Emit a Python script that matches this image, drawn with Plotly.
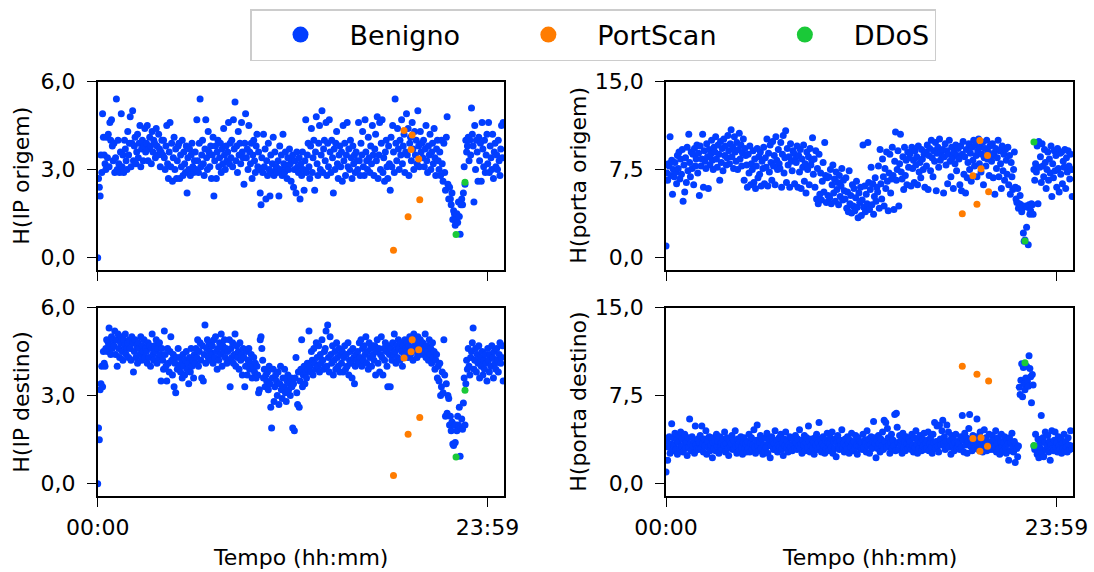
import plotly.graph_objects as go

# ---------------- data ----------------
# sample times in minutes after 00:00 (one sample every 3 minutes)
tempo = list(range(0, 1500, 3))
tick_min = [0, 1439]
tick_txt = ["00:00", "23:59"]

ip_origem = [
 0.0, 2.7, 2.4, 2.1, 3.5, 2.9, 4.9, 4.1, 3.5, 3.2, 3.0, 4.1, 3.4, 4.2, 3.1, 4.6, 4.0, 4.7, 3.8, 3.3,
 3.9, 2.9, 3.4, 5.4, 3.0, 4.0, 3.2, 2.9, 3.6, 4.9, 3.1, 3.5, 2.9, 4.0, 3.7, 3.3, 3.0, 4.3, 3.5, 3.9,
 4.8, 3.1, 3.9, 5.0, 3.3, 3.8, 4.1, 3.2, 3.6, 4.2, 3.4, 3.9, 4.5, 3.1, 3.7, 4.0, 3.3, 3.8, 4.4, 3.6,
 3.9, 4.5, 3.3, 3.7, 4.1, 3.8, 3.2, 4.3, 3.6, 4.0, 3.9, 3.4, 4.4, 3.8, 3.5, 4.2, 3.7, 3.1, 3.6, 4.0,
 3.5, 4.0, 3.4, 3.0, 3.8, 4.5, 3.2, 2.7, 3.6, 4.6, 3.1, 3.9, 2.6, 3.4, 4.1, 3.0, 3.7, 2.7, 3.3, 3.8,
 3.9, 2.7, 3.5, 3.1, 4.0, 2.8, 3.6, 3.2, 2.9, 3.8, 2.2, 3.4, 3.0, 3.7, 2.8, 3.5, 3.9, 3.1, 2.9, 3.3,
 3.6, 3.0, 4.7, 3.3, 2.9, 3.9, 5.4, 3.1, 3.5, 4.0, 3.2, 2.8, 3.7, 4.7, 3.4, 3.0, 4.3, 3.6, 3.1, 3.8,
 2.7, 3.5, 4.1, 2.1, 3.3, 3.8, 2.7, 3.6, 4.0, 3.1, 3.4, 3.9, 2.9, 3.7, 3.2, 4.4, 3.5, 3.0, 3.8, 3.3,
 3.6, 4.6, 3.2, 3.9, 3.4, 4.0, 3.1, 4.7, 3.7, 5.3, 3.3, 3.8, 2.9, 4.3, 3.5, 3.9, 3.2, 4.6, 3.6, 3.4,
 2.5, 3.9, 4.9, 3.4, 3.7, 3.0, 4.5, 3.6, 3.2, 3.9, 2.7, 3.5, 4.0, 3.3, 2.9, 3.8, 4.2, 3.1, 3.6, 3.0,
 2.2, 1.8, 3.4, 2.9, 4.2, 3.1, 3.7, 2.0, 3.3, 2.8, 3.9, 3.0, 2.1, 3.5, 2.9, 3.2, 4.1, 2.8, 3.6, 3.0,
 3.1, 2.9, 3.3, 2.1, 3.8, 3.0, 3.5, 2.8, 4.2, 3.2, 2.9, 3.6, 3.1, 2.7, 3.4, 3.0, 3.7, 3.2, 2.6, 3.3,
 3.5, 2.4, 3.0, 3.3, 2.2, 3.6, 3.1, 2.9, 3.4, 2.0, 3.2, 2.8, 3.6, 3.0, 2.3, 3.3, 4.7, 2.9, 3.5, 3.9,
 3.1, 2.7, 3.8, 4.4, 2.9, 3.4, 4.0, 2.3, 3.6, 4.8, 3.2, 2.8, 3.9, 4.5, 3.0, 3.5, 5.0, 2.9, 3.7, 4.0,
 3.3, 4.6, 2.8, 3.9, 3.1, 4.7, 3.6, 2.9, 4.0, 3.4, 2.2, 3.7, 3.0, 3.9, 4.3, 3.2, 2.7, 3.5, 3.8, 3.1,
 3.6, 2.6, 4.5, 3.3, 3.9, 2.8, 3.5, 4.6, 3.1, 3.7, 3.0, 4.0, 3.4, 2.7, 3.8, 3.2, 3.5, 2.9, 3.6, 3.3,
 3.0, 4.6, 3.3, 2.8, 3.9, 3.5, 4.3, 3.1, 2.8, 4.7, 3.6, 3.3, 3.0, 4.1, 3.4, 2.9, 3.8, 3.2, 4.5, 3.5,
 2.8, 3.7, 4.2, 3.3, 4.8, 2.7, 3.5, 4.6, 3.0, 3.9, 4.7, 2.9, 3.4, 2.6, 3.6, 4.0, 3.1, 2.7, 3.8, 3.2,
 2.3, 4.1, 3.1, 4.5, 3.6, 2.9, 5.4, 3.9, 3.3, 4.4, 3.7, 3.0, 4.0, 3.5, 4.7, 3.2, 3.8, 4.2, 2.9, 3.6,
 4.9, 3.5, 4.4, 2.8, 3.9, 4.1, 3.3, 4.6, 3.7, 3.0, 4.3, 3.5, 4.0, 3.2, 5.0, 3.8, 3.1, 4.3, 3.6, 3.9,
 3.4, 4.0, 3.1, 3.7, 4.5, 3.3, 2.9, 3.8, 3.5, 4.2, 3.0, 3.6, 3.9, 3.2, 4.4, 3.4, 2.8, 3.7, 4.0, 3.3,
 3.0, 3.6, 2.8, 4.0, 3.2, 2.6, 3.9, 2.9, 2.3, 4.1, 4.8, 2.5, 2.0, 2.4, 2.0, 1.8, 2.2, 1.3, 1.6, 1.5,
 1.1, 1.3, 1.5, 1.2, 1.9, 1.4, 0.8, 1.8, 2.0, 1.8, 2.2, 3.1, 2.5, 4.0, 3.6, 3.8, 4.1, 3.3, 4.0, 3.5,
 5.1, 4.2, 3.8, 1.9, 4.5, 3.0, 4.0, 3.6, 2.6, 4.1, 3.3, 3.9, 2.6, 4.6, 3.7, 3.1, 4.0, 2.9, 3.5, 4.2,
 3.2, 4.6, 2.9, 3.8, 3.4, 3.0, 4.2, 2.7, 3.6, 3.9, 3.1, 3.5, 3.0, 4.0, 3.3, 2.8, 3.7, 4.5, 3.4, 4.6,
]

porta_origem = [
 1.0, 7.2, 6.6, 8.0, 7.8, 10.3, 7.0, 8.3, 5.4, 7.5, 6.9, 8.1, 7.3, 6.3, 8.7, 7.6, 9.0, 6.7, 8.4, 7.1,
 9.2, 4.8, 7.9, 5.6, 8.5, 6.4, 9.4, 7.4, 10.5, 8.1, 6.9, 9.0, 7.6, 8.8, 6.2, 9.3, 7.8, 8.4, 9.6, 7.2,
 8.9, 5.3, 9.5, 7.8, 8.4, 10.5, 6.0, 9.1, 8.2, 7.6, 9.7, 8.6, 5.9, 9.2, 7.9, 8.8, 10.0, 8.3, 7.5, 9.4,
 9.0, 10.3, 8.4, 7.7, 9.6, 8.8, 6.6, 9.9, 8.1, 9.3, 7.4, 10.1, 8.7, 9.5, 7.9, 8.5, 10.4, 9.1, 8.0, 9.7,
 10.9, 8.6, 9.4, 7.6, 10.3, 9.0, 8.2, 9.8, 7.5, 9.2, 10.6, 8.4, 9.6, 7.8, 8.9, 10.1, 6.6, 9.3, 8.7, 7.9,
 6.0, 8.8, 7.2, 9.5, 6.2, 8.0, 7.5, 9.1, 6.4, 8.4, 5.9, 7.8, 9.3, 6.8, 8.6, 7.1, 9.0, 6.1, 8.2, 7.6,
 9.4, 6.3, 8.5, 7.7, 10.1, 6.1, 8.9, 7.3, 9.6, 8.1, 6.6, 9.9, 7.8, 8.7, 6.2, 10.3, 8.3, 7.5, 9.2, 8.0,
 7.6, 9.8, 6.0, 8.8, 10.4, 7.2, 8.5, 10.8, 6.4, 9.3, 7.9, 8.6, 6.0, 9.7, 8.2, 7.4, 9.1, 8.9, 6.3, 8.4,
 8.1, 9.5, 6.0, 8.7, 7.3, 9.2, 5.9, 8.4, 7.7, 9.6, 6.5, 8.0, 5.5, 9.0, 7.5, 8.6, 6.2, 9.3, 7.9, 8.3,
 10.2, 7.1, 8.4, 6.0, 9.1, 5.0, 7.6, 4.6, 8.8, 5.4, 7.2, 4.9, 6.5, 8.1, 5.6, 9.8, 7.0, 4.7, 6.8, 5.3,
 6.9, 5.1, 7.5, 4.6, 6.2, 7.9, 5.5, 6.7, 4.8, 7.3, 5.8, 6.4, 4.5, 7.0, 5.2, 6.1, 7.6, 4.9, 6.6, 5.7,
 5.0, 6.8, 4.2, 5.6, 3.9, 7.4, 4.6, 5.3, 3.8, 6.2, 4.4, 5.9, 4.0, 5.1, 6.5, 4.3, 3.4, 5.5, 4.7, 6.0,
 3.6, 4.9, 9.6, 4.3, 6.1, 3.9, 5.4, 4.6, 9.8, 6.4, 4.1, 5.8, 7.7, 4.5, 6.3, 3.7, 5.2, 6.8, 4.8, 6.0,
 5.6, 7.8, 4.2, 9.2, 6.3, 5.0, 8.4, 6.9, 4.4, 7.6, 5.9, 9.0, 6.5, 4.0, 7.2, 8.8, 5.5, 6.7, 9.4, 7.0,
 4.1, 8.2, 10.7, 6.6, 7.5, 9.1, 4.4, 8.0, 10.5, 7.3, 6.7, 8.6, 5.8, 9.4, 7.0, 8.3, 6.2, 9.0, 7.7, 8.5,
 8.9, 6.1, 9.4, 7.6, 8.3, 6.4, 9.1, 7.9, 8.6, 6.2, 9.5, 7.3, 8.1, 6.8, 9.2, 8.4, 7.5, 8.8, 6.0, 9.0,
 7.8, 9.6, 5.8, 8.7, 9.3, 7.4, 10.0, 8.5, 6.9, 9.1, 8.2, 9.8, 5.7, 8.9, 9.4, 7.7, 10.1, 8.3, 9.0, 8.6,
 9.2, 5.5, 8.6, 9.7, 7.9, 9.1, 6.3, 8.8, 10.0, 8.2, 6.9, 9.4, 8.5, 5.9, 9.0, 8.0, 9.6, 7.4, 8.7, 9.3,
 8.4, 6.2, 9.5, 5.7, 8.8, 9.9, 7.1, 8.6, 5.5, 9.2, 6.8, 8.1, 9.7, 7.5, 8.9, 6.5, 9.4, 8.3, 10.0, 7.8,
 9.6, 8.7, 6.9, 9.1, 10.1, 8.0, 9.4, 7.3, 8.8, 9.8, 6.2, 8.5, 9.3, 7.8, 10.0, 8.4, 9.0, 7.0, 9.5, 8.6,
 8.2, 9.7, 6.8, 8.9, 5.4, 9.3, 7.6, 8.5, 10.0, 6.9, 9.1, 8.0, 5.9, 9.5, 7.4, 8.8, 6.6, 9.2, 8.3, 7.1,
 9.4, 6.2, 8.7, 5.4, 8.1, 6.9, 5.8, 7.5, 9.0, 6.0, 5.0, 4.7, 5.9, 4.2, 4.6, 5.3, 4.5, 3.9, 4.3, 2.1,
 1.4, 1.5, 4.4, 2.6, 4.3, 1.1, 4.5, 3.7, 4.0, 4.6, 4.5, 3.7, 7.5, 6.6, 8.0, 7.3, 9.5, 4.6, 9.9, 7.7,
 8.6, 6.4, 9.7, 7.8, 6.9, 9.2, 8.1, 5.9, 7.5, 9.0, 6.6, 8.4, 7.2, 9.5, 5.2, 8.0, 6.8, 9.1, 7.4, 8.7,
 6.0, 9.3, 7.6, 5.6, 8.9, 7.1, 9.0, 6.3, 8.2, 7.7, 9.2, 5.9, 8.5, 7.3, 9.1, 7.8, 6.7, 8.8, 7.5, 5.2,
]

ip_destino = [
 0.0, 1.9, 1.5, 3.2, 3.4, 4.0, 3.3, 4.5, 4.1, 4.0, 4.6, 4.9, 4.5, 4.8, 5.3, 4.7, 4.4, 5.0, 4.6, 4.9,
 4.7, 5.2, 4.4, 4.9, 4.0, 5.1, 4.6, 4.3, 4.8, 5.0, 4.5, 4.2, 4.9, 4.7, 5.1, 4.4, 4.6, 4.8, 4.3, 4.9,
 4.6, 4.2, 5.0, 4.8, 3.8, 4.5, 4.9, 4.3, 4.7, 4.1, 4.8, 4.6, 4.4, 5.0, 4.2, 4.7, 4.5, 4.9, 4.3, 4.6,
 4.5, 4.1, 4.8, 4.3, 4.7, 4.0, 4.6, 5.1, 4.4, 4.2, 4.7, 4.5, 4.9, 4.1, 4.6, 4.3, 4.8, 4.4, 3.5, 4.6,
 4.2, 3.9, 5.2, 4.4, 4.0, 3.5, 4.6, 4.1, 3.8, 4.5, 5.0, 4.2, 3.7, 4.4, 3.3, 4.1, 3.1, 4.3, 3.9, 4.6,
 4.0, 4.3, 3.8, 4.1, 3.6, 4.4, 4.0, 3.7, 4.2, 4.5, 3.9, 4.1, 3.4, 4.3, 3.8, 4.6, 4.0, 4.2, 3.6, 4.4,
 4.1, 4.6, 4.3, 4.9, 4.0, 4.5, 4.8, 4.2, 3.6, 4.7, 3.5, 4.4, 5.4, 4.1, 4.6, 4.9, 4.3, 4.8, 4.5, 4.2,
 4.4, 4.7, 4.1, 4.9, 4.3, 5.0, 4.5, 3.9, 4.6, 4.2, 4.8, 4.4, 5.1, 4.0, 4.7, 4.5, 4.9, 4.3, 4.6, 4.1,
 4.5, 4.2, 4.9, 3.3, 4.6, 4.3, 4.8, 4.1, 4.4, 5.1, 4.0, 4.7, 4.3, 4.5, 3.9, 4.8, 4.2, 4.4, 3.7, 4.6,
 4.3, 3.3, 4.0, 4.5, 3.7, 4.2, 4.6, 3.9, 4.1, 4.4, 3.6, 4.0, 4.3, 3.8, 4.1, 3.6, 4.0, 3.7, 3.1, 3.2,
 4.9, 5.0, 4.6, 4.2, 3.6, 3.9, 3.3, 3.7, 3.5, 3.8, 3.2, 4.0, 3.4, 2.6, 1.9, 3.6, 3.9, 2.8, 3.3, 3.7,
 3.5, 3.0, 3.8, 2.7, 3.4, 4.0, 3.2, 2.9, 3.6, 3.3, 3.9, 3.1, 2.8, 3.5, 3.7, 3.2, 3.4, 3.0, 3.6, 3.3,
 1.9, 3.4, 1.8, 3.6, 4.3, 3.1, 2.7, 3.8, 2.6, 3.5, 3.9, 4.9, 3.3, 3.7, 4.0, 3.4, 3.8, 3.6, 4.1, 3.9,
 5.2, 4.0, 3.8, 4.5, 4.2, 3.7, 4.6, 4.1, 3.9, 4.8, 4.3, 4.0, 4.7, 3.8, 4.4, 4.1, 4.9, 4.2, 3.9, 4.5,
 4.6, 5.2, 4.0, 5.4, 4.3, 3.8, 5.0, 4.4, 4.1, 4.7, 3.7, 4.2, 4.5, 3.9, 4.8, 4.3, 4.0, 4.6, 3.8, 4.4,
 4.1, 4.5, 3.8, 4.3, 4.7, 3.9, 4.4, 4.0, 4.8, 3.7, 4.2, 4.5, 4.1, 3.6, 4.6, 4.3, 3.4, 4.0, 4.4, 4.2,
 4.5, 4.1, 4.8, 4.3, 4.9, 4.0, 4.6, 4.2, 4.7, 4.4, 5.0, 4.1, 4.5, 3.9, 4.8, 4.3, 4.6, 4.0, 4.7, 4.4,
 4.2, 4.7, 3.7, 4.5, 4.9, 4.1, 4.6, 3.8, 4.4, 5.0, 4.3, 3.7, 4.6, 4.2, 4.8, 4.5, 4.0, 3.3, 4.7, 4.4,
 3.3, 4.6, 4.2, 4.8, 4.4, 5.1, 4.5, 4.1, 4.7, 4.3, 4.9, 4.6, 4.2, 4.8, 4.5, 4.0, 4.7, 4.4, 4.9, 4.6,
 4.5, 4.8, 4.3, 4.7, 5.0, 4.4, 4.6, 4.9, 4.2, 5.1, 4.7, 4.5, 4.8, 4.3, 5.0, 4.6, 4.4, 4.9, 4.7, 4.5,
 4.8, 4.4, 4.6, 5.1, 4.3, 4.7, 4.5, 4.2, 4.9, 4.4, 4.6, 4.1, 4.8, 4.3, 4.5, 3.9, 4.2, 4.4, 3.6, 4.0,
 3.5, 4.1, 3.0, 3.3, 3.8, 3.1, 4.9, 3.7, 2.3, 3.4, 2.4, 3.0, 2.9, 2.0, 2.3, 1.8, 2.1, 1.35, 1.3, 2.0,
 1.4, 2.0, 1.8, 2.3, 2.0, 2.6, 0.93, 1.9, 2.2, 1.85, 2.75, 3.6, 2.0, 3.4, 4.2, 3.9, 4.6, 4.0, 3.7, 4.3,
 4.5, 4.8, 5.3, 3.9, 4.2, 4.6, 3.8, 4.4, 4.1, 4.7, 3.6, 4.3, 4.0, 4.5, 3.7, 4.2, 3.9, 4.4, 4.1, 3.5,
 4.6, 4.2, 3.8, 4.4, 4.0, 4.7, 4.3, 3.6, 4.5, 4.1, 3.9, 4.6, 4.2, 3.8, 4.4, 4.8, 4.1, 4.3, 4.7, 3.5,
]

porta_destino = [
 1.0, 3.6, 2.0, 3.1, 4.0, 2.6, 3.4, 5.1, 2.8, 3.9, 3.3, 4.3, 2.9, 3.7, 2.5, 3.5, 4.1, 3.0, 4.4, 3.2,
 3.8, 2.7, 3.3, 4.2, 3.0, 3.6, 2.4, 3.9, 3.1, 5.5, 3.4, 2.8, 4.0, 3.2, 3.7, 2.6, 4.9, 3.3, 3.0, 3.8,
 2.9, 3.5, 4.1, 3.0, 4.9, 3.4, 2.7, 3.8, 3.2, 4.5, 2.5, 3.6, 3.1, 4.0, 2.8, 3.3, 3.9, 2.2, 3.5, 3.0,
 3.7, 2.8, 4.2, 3.2, 3.6, 2.6, 4.0, 3.1, 3.5, 2.9, 3.8, 3.3, 4.4, 2.7, 3.4, 3.9, 3.0, 2.4, 3.6, 3.2,
 3.4, 4.1, 2.9, 3.7, 3.0, 4.5, 3.2, 2.6, 3.8, 3.3, 2.8, 3.6, 4.0, 3.1, 2.5, 3.5, 3.9, 3.0, 3.4, 2.7,
 3.6, 3.0, 4.2, 2.7, 3.4, 3.9, 2.9, 3.3, 4.6, 3.1, 2.6, 3.7, 5.0, 3.2, 2.8, 3.5, 4.1, 3.0, 3.8, 2.5,
 3.3, 2.8, 3.9, 3.1, 4.3, 2.6, 3.5, 3.8, 2.2, 3.2, 4.0, 3.6, 2.9, 3.4, 4.5, 3.0, 3.7, 2.7, 3.3, 3.9,
 3.1, 4.2, 2.9, 3.5, 2.4, 3.8, 3.2, 4.4, 3.0, 3.6, 2.7, 3.3, 4.0, 3.1, 3.9, 2.8, 3.4, 3.7, 3.0, 4.1,
 3.5, 2.9, 3.8, 3.2, 4.6, 3.0, 3.4, 2.6, 3.7, 3.3, 4.1, 2.8, 3.5, 3.9, 3.1, 4.9, 3.6, 2.7, 3.2, 3.8,
 3.0, 3.6, 2.5, 3.9, 3.3, 4.2, 2.9, 3.5, 5.2, 3.1, 3.8, 2.7, 3.4, 4.0, 3.2, 2.6, 3.7, 3.0, 4.3, 3.5,
 2.8, 3.4, 3.9, 3.1, 4.4, 2.6, 3.6, 3.0, 3.8, 2.3, 3.5, 4.1, 3.2, 2.9, 3.7, 3.3, 4.6, 3.0, 3.4, 2.7,
 3.8, 3.2, 2.9, 4.0, 3.5, 2.6, 3.7, 3.1, 4.3, 3.4, 2.8, 3.6, 3.0, 4.1, 3.3, 2.5, 3.9, 3.2, 3.6, 3.0,
 3.5, 2.9, 4.2, 3.1, 3.7, 3.4, 2.7, 4.5, 3.2, 3.8, 2.6, 3.3, 4.0, 3.0, 3.6, 5.3, 3.9, 3.4, 2.2, 3.7,
 3.0, 4.1, 3.4, 2.7, 3.8, 3.2, 4.4, 2.9, 5.4, 3.6, 5.2, 3.1, 4.7, 3.9, 3.3, 2.6, 3.5, 4.2, 3.0, 3.7,
 3.2, 5.9, 2.8, 6.0, 4.8, 3.5, 2.9, 4.1, 3.3, 3.7, 2.6, 4.3, 3.1, 3.6, 2.8, 4.0, 3.4, 3.0, 3.8, 3.2,
 3.6, 2.9, 4.2, 3.3, 2.7, 3.9, 3.1, 4.5, 3.4, 2.6, 3.7, 3.0, 4.1, 3.5, 2.8, 3.8, 3.2, 4.3, 2.9, 3.5,
 3.0, 3.7, 4.4, 2.8, 3.4, 3.9, 3.1, 2.6, 4.2, 3.5, 5.2, 3.0, 3.6, 4.9, 3.2, 2.7, 5.0, 3.8, 3.3, 4.5,
 5.4, 3.4, 4.0, 2.9, 3.6, 5.0, 3.2, 4.4, 3.1, 3.7, 2.5, 4.1, 3.3, 3.8, 2.8, 3.5, 4.2, 3.0, 3.6, 3.2,
 3.4, 2.9, 4.0, 3.1, 5.8, 3.7, 2.7, 4.3, 3.3, 3.9, 2.6, 3.6, 4.7, 5.9, 3.2, 3.8, 2.8, 4.1, 3.5, 3.0,
 3.7, 4.0, 5.5, 3.2, 2.9, 3.6, 4.4, 3.0, 3.8, 2.7, 3.4, 4.6, 3.1, 3.9, 2.8, 3.5, 3.2, 4.2, 2.9, 3.6,
 3.3, 4.1, 2.9, 3.7, 3.1, 4.5, 2.7, 3.4, 3.9, 3.0, 2.5, 3.6, 4.2, 3.2, 2.8, 3.5, 4.0, 3.1, 2.6, 3.7,
 3.4, 2.0, 3.9, 2.8, 3.5, 4.3, 3.1, 2.7, 3.6, 1.8, 3.3, 3.0, 2.3, 3.2, 8.2, 7.6, 8.8, 10.2, 7.4, 9.9,
 8.5, 8.0, 9.0, 10.0, 8.7, 8.3, 10.9, 9.8, 9.1, 6.9, 9.3, 8.4, 3.2, 2.9, 4.2, 3.1, 2.5, 3.8, 2.2, 3.4,
 3.0, 5.8, 2.6, 3.9, 2.3, 3.5, 4.4, 2.9, 3.2, 4.1, 2.7, 3.6, 2.0, 3.3, 4.5, 3.0, 2.8, 3.7, 4.4, 3.1,
 3.5, 2.7, 4.0, 3.2, 2.9, 3.8, 2.6, 3.4, 3.0, 4.2, 2.8, 3.6, 3.1, 2.7, 3.9, 3.3, 2.9, 4.5, 3.2, 3.0,
]

# attacks
portscan_t = [1092, 1131, 1146, 1157, 1161, 1185, 1189]
portscan_ip_origem = [0.25, 4.33, 1.39, 3.68, 4.18, 3.36, 1.97]
portscan_porta_origem = [3.74, 6.97, 4.54, 9.98, 7.57, 8.70, 5.61]
portscan_ip_destino = [0.28, 4.28, 1.68, 4.49, 4.90, 4.56, 2.25]
portscan_porta_destino = [10.0, 3.84, 9.32, 2.76, 3.90, 3.18, 8.75]

ddos_t = [1323, 1356]
ddos_ip_origem = [0.79, 2.57]
ddos_porta_origem = [1.42, 9.84]
ddos_ip_destino = [0.91, 3.18]
ddos_porta_destino = [10.3, 3.24]

series_names = ["Benigno", "PortScan", "DDoS"]
colors = ["#023eff", "#ff7c00", "#1ac938"]
x_title = "Tempo (hh:mm)"

panels = [
    ("H(IP origem)", ip_origem, portscan_ip_origem, ddos_ip_origem, [0, 3, 6], ["0,0", "3,0", "6,0"], [-0.42, 6.0]),
    ("H(porta origem)", porta_origem, portscan_porta_origem, ddos_porta_origem, [0, 7.5, 15], ["0,0", "7,5", "15,0"], [-1.05, 15.0]),
    ("H(IP destino)", ip_destino, portscan_ip_destino, ddos_ip_destino, [0, 3, 6], ["0,0", "3,0", "6,0"], [-0.42, 6.0]),
    ("H(porta destino)", porta_destino, portscan_porta_destino, ddos_porta_destino, [0, 7.5, 15], ["0,0", "7,5", "15,0"], [-1.05, 15.0]),
]

# ---------------- figure ----------------
W, H = 1094, 572
FONT = "DejaVu Sans"
FS = 22
xpix = [(97.7, 504.0), (666.0, 1073.0)]
ypix = [(81.5, 270.0), (307.5, 496.0)]
ytitle_x = [22.0, 579.0]
xtitle_y = 557.0

fig = go.Figure()
layout = dict(
    width=W, height=H, margin=dict(l=0, r=0, t=0, b=0, autoexpand=False),
    paper_bgcolor="white", plot_bgcolor="white",
    font=dict(family=FONT, size=FS, color="black"),
    showlegend=True,
)
annotations = []

for i, (title, ben, ps, dd, yt, ytt, yr) in enumerate(panels):
    n = i + 1
    row, col = divmod(i, 2)
    xa = "x" if n == 1 else f"x{n}"
    ya = "y" if n == 1 else f"y{n}"
    for vals_x, vals_y, c, nm in ((tempo, ben, colors[0], series_names[0]),
                                  (portscan_t, ps, colors[1], series_names[1]),
                                  (ddos_t, dd, colors[2], series_names[2])):
        fig.add_trace(go.Scatter(x=vals_x, y=vals_y, mode="markers", xaxis=xa, yaxis=ya,
                                 marker=dict(color=c, size=7, line=dict(width=0)),
                                 name=nm, showlegend=False))
    axis_common = dict(showline=True, linecolor="black", linewidth=1.6, mirror=True,
                       ticks="outside", ticklen=9, tickwidth=1.4, tickcolor="black",
                       showgrid=False, zeroline=False, automargin=False,
                       tickfont=dict(family=FONT, size=FS, color="black"))
    xkey = "xaxis" if n == 1 else f"xaxis{n}"
    ykey = "yaxis" if n == 1 else f"yaxis{n}"
    x0, x1 = xpix[col]
    y0, y1 = ypix[row]
    layout[xkey] = dict(axis_common, domain=[x0 / W, x1 / W], anchor=ya, range=[0, 1500],
                        tickmode="array", tickvals=tick_min, ticktext=tick_txt,
                        showticklabels=(row == 1), ticklabelstandoff=2)
    layout[ykey] = dict(axis_common, domain=[1 - y1 / H, 1 - y0 / H], anchor=xa, range=yr,
                        tickmode="array", tickvals=yt, ticktext=ytt, ticklabelstandoff=7)
    annotations.append(dict(text=title, xref="paper", yref="paper", x=ytitle_x[col] / W,
                            y=1 - (y0 + y1) / 2 / H, xanchor="center", yanchor="middle",
                            textangle=-90, showarrow=False,
                            font=dict(family=FONT, size=FS, color="black")))
    if row == 1:
        annotations.append(dict(text=x_title, xref="paper", yref="paper", x=(x0 + x1) / 2 / W,
                                y=1 - xtitle_y / H, xanchor="center", yanchor="middle",
                                showarrow=False, font=dict(family=FONT, size=FS, color="black")))

# legend entries (padding between entries with no-break spaces)
pad = "\u00a0" * 4
legend_labels = [series_names[0] + pad, series_names[1] + pad, series_names[2]]
for name, c in zip(legend_labels, colors):
    fig.add_trace(go.Scatter(x=[None], y=[None], mode="markers", name=name,
                             marker=dict(color=c, size=20), showlegend=True))

layout["annotations"] = annotations
layout["legend"] = dict(orientation="h", x=250 / W, y=1 - 9 / H, xanchor="left", yanchor="top",
                        bordercolor="#cccccc", borderwidth=1.5, bgcolor="white",
                        font=dict(family=FONT, size=27, color="black"),
                        itemwidth=88)
fig.update_layout(**layout)
fig.write_html("out.html")
